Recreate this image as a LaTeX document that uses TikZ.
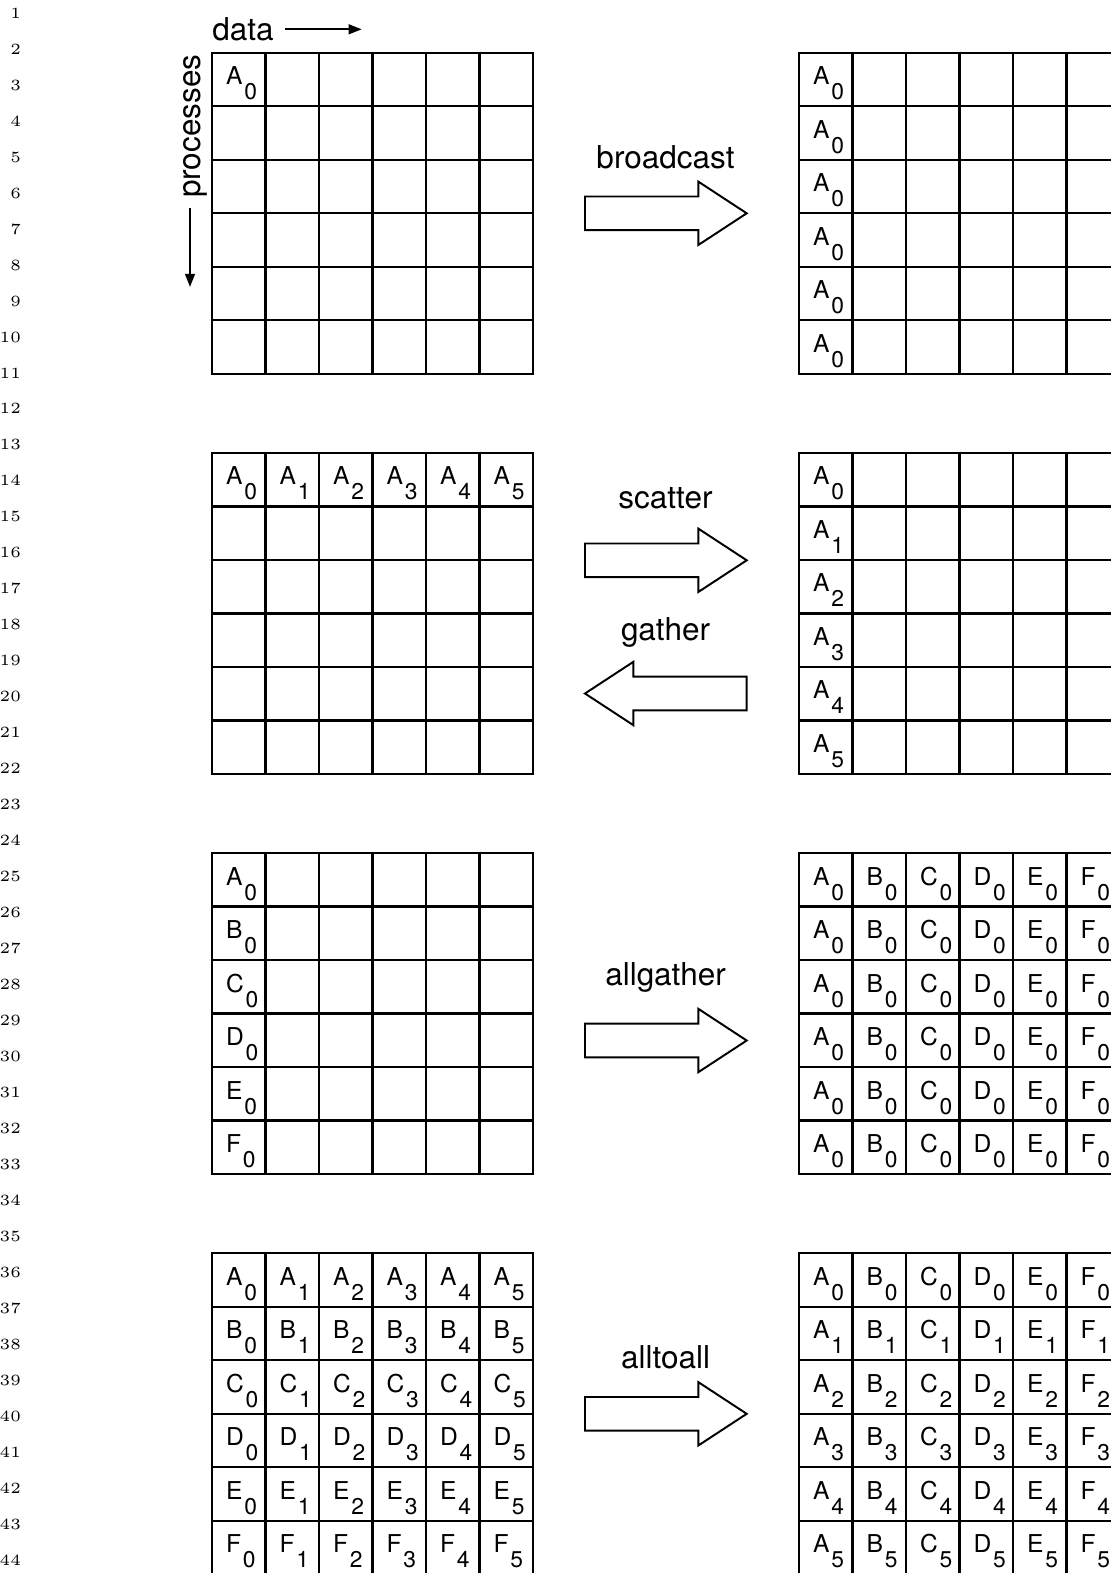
\documentclass[tikz,border=0pt]{standalone}
\usepackage{fontspec}
\newfontfamily\helv{TeX Gyre Heros}
\usetikzlibrary{arrows.meta}
\newcommand{\cellsub}[2]{#1\hspace{0.6pt}\raisebox{-5pt}{\fontsize{7.6}{8}\selectfont #2}}
\newcommand{\gridat}[2]{%
  \draw[gridline] (#1,#2) rectangle ++(321,321);
  \foreach \k in {1,...,5}
  {
    \draw[gridline] ({#1+53.5*\k},#2) -- ++(0,321);
    \draw[gridline] (#1,{#2+53.5*\k}) -- ++(321,0);
  }}
\tikzset{
  gridline/.style={line width=0.75pt},
  celltext/.style={anchor=base west,inner sep=0pt,font=\helv\fontsize{8.2}{9}\selectfont},
  oplabel/.style={anchor=base,inner sep=0pt,font=\helv\fontsize{10.5}{12}\selectfont},
  axislabel/.style={inner sep=0pt,font=\helv\fontsize{10.5}{12}\selectfont},
  axisarrow/.style={line width=0.6pt,-{Triangle[length=4.4pt,width=3.3pt]}},
  linenum/.style={anchor=base east,inner sep=0pt,font=\fontsize{5.2}{6}\selectfont},
  blockarrow/.pic={\draw[line width=0.65pt,line join=miter]
    (0,-16.8) -- (113.3,-16.8) -- (113.3,-31.7) -- (161.7,0) -- (113.3,31.7)
    -- (113.3,16.8) -- (0,16.8) -- cycle;}
}
\begin{document}
\begin{tikzpicture}[x=0.3333pt,y=-0.3333pt]
\useasboundingbox (0,0) rectangle (1111,1573);
\clip (0,0) rectangle (1111,1573);
\foreach \n in {1,...,44}
  \node[linenum] (ln\n) at (21.5,{18.3+35.97*(\n-1)}) {\n};

\node[axislabel,anchor=base west] (data) at (211.7,40) {data};
\coordinate (datafrom) at (285,29.3);
\coordinate (datato) at (361.7,29.3);
\draw[axisarrow] (datafrom) -- (datato);
\node[axislabel,anchor=base west,rotate=90] (procs) at (200.5,198.5) {processes};
\coordinate (procfrom) at (190,208);
\coordinate (procto) at (190,287);
\draw[axisarrow] (procfrom) -- (procto);

\gridat{212}{52.7}
\gridat{799}{52.7}
\gridat{212}{452.9}
\gridat{799}{452.9}
\gridat{212}{853.1}
\gridat{799}{853.1}
\gridat{212}{1253.3}
\gridat{799}{1253.3}

\node[celltext] (bl00) at (225.5,84.7) {\cellsub{A}{0}};
\foreach \r in {0,...,5}
  \node[celltext] (br\r0) at (812.5,{84.7+53.5*\r}) {\cellsub{A}{0}};

\foreach \c in {0,...,5}
  \node[celltext] (sl0\c) at ({225.5+53.5*\c},484.9) {\cellsub{A}{\c}};
\foreach \r in {0,...,5}
  \node[celltext] (sr\r0) at (812.5,{484.9+53.5*\r}) {\cellsub{A}{\r}};

\foreach \r/\L in {0/A,1/B,2/C,3/D,4/E,5/F}
  \node[celltext] (gl\r0) at (225.5,{885.1+53.5*\r}) {\cellsub{\L}{0}};
\foreach \c/\L in {0/A,1/B,2/C,3/D,4/E,5/F}
  \foreach \r in {0,...,5}
    \node[celltext] (gr\r\c) at ({812.5+53.5*\c},{885.1+53.5*\r}) {\cellsub{\L}{0}};

\foreach \r/\L in {0/A,1/B,2/C,3/D,4/E,5/F}
  \foreach \c in {0,...,5}
    \node[celltext] (al\r\c) at ({225.5+53.5*\c},{1285.3+53.5*\r}) {\cellsub{\L}{\c}};
\foreach \c/\L in {0/A,1/B,2/C,3/D,4/E,5/F}
  \foreach \r in {0,...,5}
    \node[celltext] (ar\r\c) at ({812.5+53.5*\c},{1285.3+53.5*\r}) {\cellsub{\L}{\r}};

\node[oplabel] (bcast) at (665.5,168.5) {broadcast};
\pic at (585,213.3) {blockarrow};
\node[oplabel] (scat) at (665.5,508.5) {scatter};
\pic at (585,560.3) {blockarrow};
\node[oplabel] (gath) at (665.5,640) {gather};
\pic[xscale=-1] at (746.7,693.5) {blockarrow};
\node[oplabel] (allg) at (665.5,985) {allgather};
\pic at (585,1040.5) {blockarrow};
\node[oplabel] (a2a) at (665.5,1368) {alltoall};
\pic at (585,1413.8) {blockarrow};
\end{tikzpicture}
\end{document}
